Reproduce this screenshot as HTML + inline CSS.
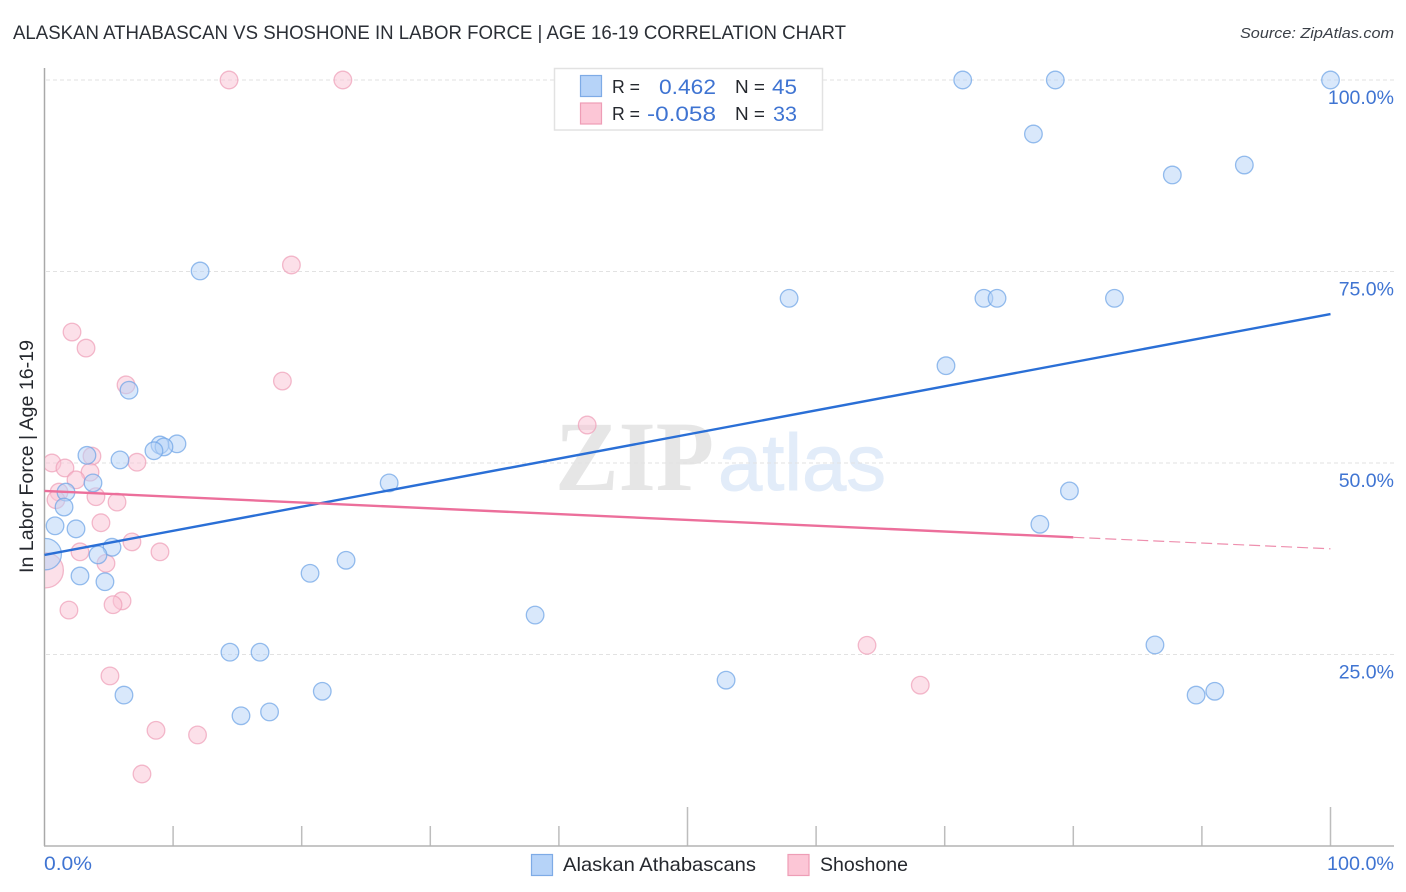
<!DOCTYPE html>
<html lang="en">
<head>
<meta charset="utf-8">
<title>Alaskan Athabascan vs Shoshone in Labor Force | Age 16-19 Correlation Chart</title>
<style>
html,body{margin:0;padding:0;background:#fff;}
svg{display:block;font-family:"Liberation Sans",sans-serif;}
</style>
</head>
<body>
<svg id="chart" xmlns="http://www.w3.org/2000/svg" width="1406" height="892" viewBox="0 0 1406 892">
  <defs>
    <clipPath id="plot-clip"><rect x="45" y="60" width="1349" height="786"/></clipPath>
  </defs>
  <rect x="0" y="0" width="1406" height="892" fill="#fff"/>
  <text x="13" y="39" font-size="19" fill="#2b2f36" textLength="833" lengthAdjust="spacingAndGlyphs">ALASKAN ATHABASCAN VS SHOSHONE IN LABOR FORCE | AGE 16-19 CORRELATION CHART</text>
  <text x="1394" y="38" font-size="15" font-style="italic" fill="#3a3f47" text-anchor="end" textLength="154" lengthAdjust="spacingAndGlyphs">Source: ZipAtlas.com</text>

  <g>
    <text x="555" y="490" font-family="'Liberation Serif',serif" font-weight="bold" font-size="100" fill="#e6e6e6" textLength="159" lengthAdjust="spacingAndGlyphs">ZIP</text>
    <text x="718" y="490" font-family="'Liberation Sans',sans-serif" font-size="80" fill="#e2ecf9" stroke="#e2ecf9" stroke-width="1" textLength="168" lengthAdjust="spacingAndGlyphs">atlas</text>
  </g>

  <g id="grid"></g>
  <g id="xticks"></g>
  <g id="ylabels"></g>

  <line x1="44.5" y1="68" x2="44.5" y2="846" stroke="#a9a9a9" stroke-width="1.5"/>
  <line x1="44" y1="846" x2="1394" y2="846" stroke="#b3b3b3" stroke-width="1.5"/>

  <g id="points" clip-path="url(#plot-clip)"></g>
  <g id="trends"></g>

  <text transform="translate(33,573) rotate(-90)" font-size="19.5" fill="#25282e" textLength="233" lengthAdjust="spacingAndGlyphs">In Labor Force | Age 16-19</text>
  <text x="44" y="870" font-size="19.5" fill="#3f74d2" textLength="48" lengthAdjust="spacingAndGlyphs">0.0%</text>
  <text x="1394" y="870" font-size="19.5" fill="#3f74d2" text-anchor="end" textLength="67" lengthAdjust="spacingAndGlyphs">100.0%</text>

  <g>
    <rect x="554.5" y="68.5" width="268" height="61.5" fill="#fff" stroke="#e2e2e2" stroke-width="1.5"/>
    <rect x="580.5" y="75.5" width="21" height="21" fill="#b6d3f8" stroke="#7eabe6" stroke-width="1.2"/>
    <rect x="580.5" y="103" width="21" height="21" fill="#fcc6d6" stroke="#ee9db6" stroke-width="1.2"/>
    <text x="612" y="93" font-size="18.5" fill="#25282e" textLength="28" lengthAdjust="spacingAndGlyphs">R =</text>
    <text x="716" y="94" font-size="21.5" fill="#3f74d2" text-anchor="end" textLength="57" lengthAdjust="spacingAndGlyphs">0.462</text>
    <text x="735" y="93" font-size="18.5" fill="#25282e" textLength="30" lengthAdjust="spacingAndGlyphs">N =</text>
    <text x="797" y="94" font-size="21.5" fill="#3f74d2" text-anchor="end" textLength="25" lengthAdjust="spacingAndGlyphs">45</text>
    <text x="612" y="120" font-size="18.5" fill="#25282e" textLength="28" lengthAdjust="spacingAndGlyphs">R =</text>
    <text x="716" y="121" font-size="21.5" fill="#3f74d2" text-anchor="end" textLength="69" lengthAdjust="spacingAndGlyphs">-0.058</text>
    <text x="735" y="120" font-size="18.5" fill="#25282e" textLength="30" lengthAdjust="spacingAndGlyphs">N =</text>
    <text x="797" y="121" font-size="21.5" fill="#3f74d2" text-anchor="end" textLength="24" lengthAdjust="spacingAndGlyphs">33</text>
  </g>

  <g>
    <rect x="531.5" y="854.5" width="21" height="21" fill="#b6d3f8" stroke="#7eabe6" stroke-width="1.2"/>
    <text x="563" y="871" font-size="19.5" fill="#25282e" textLength="193" lengthAdjust="spacingAndGlyphs">Alaskan Athabascans</text>
    <rect x="788" y="854.5" width="21" height="21" fill="#fcc6d6" stroke="#ee9db6" stroke-width="1.2"/>
    <text x="820" y="871" font-size="19.5" fill="#25282e" textLength="88" lengthAdjust="spacingAndGlyphs">Shoshone</text>
  </g>
</svg>
<script>
const yTickValues = [25, 50, 75, 100];
const yTickLabels = ["25.0%", "50.0%", "75.0%", "100.0%"];
const xTickValues = [10, 20, 30, 40, 50, 60, 70, 80, 90, 100];
const xMajorTicks = [50, 100];

const pinkX = [14.35,23.2,19.2,2.14,3.23,18.5,6.34,42.2,3.69,0.58,7.19,1.59,3.54,2.45,1.13,4.0,0.89,5.64,4.39,6.8,2.76,8.98,4.78,0.1,6.03,5.33,1.9,63.96,68.1,5.09,8.67,11.9,7.58];
const pinkY = [100,100,75.85,67.1,65.0,60.7,60.2,54.96,50.9,50.0,50.1,49.35,48.8,47.8,46.2,45.6,45.2,44.9,42.2,39.7,38.4,38.4,36.9,36.0,32.0,31.5,30.8,26.2,21.0,22.2,15.1,14.5,9.4];
const pinkWeight = [1,1,1,1,1,1,1,1,1,1,1,1,1,1,1,1,1,1,1,1,1,1,1,4,1,1,1,1,1,1,1,1,1];

const blueX = [100,78.6,71.4,76.9,93.3,87.7,12.1,57.9,73.05,74.07,83.2,70.1,6.57,10.3,8.98,9.29,8.51,3.3,5.87,3.77,26.8,1.67,79.7,1.52,0.82,77.4,2.45,5.25,4.16,0.1,23.45,2.76,20.65,4.7,38.15,86.35,14.42,16.76,53.0,21.6,91.0,6.18,89.55,17.5,15.28];
const blueY = [100,100,100,92.95,88.9,87.6,75.07,71.5,71.5,71.5,71.5,62.7,59.5,52.5,52.35,52.1,51.6,51.0,50.4,47.4,47.4,46.2,46.35,44.25,41.8,42.0,41.4,39.0,38.0,38.1,37.3,35.25,35.6,34.5,30.15,26.25,25.3,25.3,21.65,20.2,20.2,19.7,19.7,17.5,17.0];
const blueWeight = [1,1,1,1,1,1,1,1,1,1,1,1,1,1,1,1,1,1,1,1,1,1,1,1,1,1,1,1,1,3.16,1,1,1,1,1,1,1,1,1,1,1,1,1,1,1];

const blueTrendX = [0, 100];
const blueTrendY = [38.0, 69.45];
const pinkTrendX = [0, 80];
const pinkTrendY = [46.35, 40.3];
const pinkDashX = [80, 100];
const pinkDashY = [40.3, 38.8];

const NS = "http://www.w3.org/2000/svg";
function xScale(v) { return 44.5 + v * 12.86; }
function yScale(v) { return 846 - v * 7.66; }
function make(tag, attrs, parent) {
  const el = document.createElementNS(NS, tag);
  for (const k in attrs) el.setAttribute(k, attrs[k]);
  parent.appendChild(el);
  return el;
}

const grid = document.getElementById("grid");
const ylabels = document.getElementById("ylabels");
yTickValues.forEach(function (v, i) {
  const line = make("line", {x1: 46, x2: 1394, y1: yScale(v), y2: yScale(v), stroke: "#e2e2e2", "stroke-width": 1, "stroke-dasharray": "4 3"}, grid);
  
  
  const t = make("text", {x: 1394, y: yScale(v) + 24, "font-size": 19.5, fill: "#3f74d2", "text-anchor": "end"}, ylabels);
  t.textContent = yTickLabels[i];
  
  
});

const xticks = document.getElementById("xticks");
xTickValues.forEach(function (v) {
  const top = xMajorTicks.indexOf(v) >= 0 ? 807 : 826;
  const tick = make("line", {x1: xScale(v), x2: xScale(v), y1: top, y2: 846, stroke: "#bdbdbd", "stroke-width": 1.5}, xticks);
  
  
});

const pointsG = document.getElementById("points");
function drawSeries(xs, ys, weights, fill, stroke, name) {
  xs.forEach(function (x, i) {
    const c = make("circle", {cx: xScale(x), cy: yScale(ys[i]), r: 8.8 * Math.sqrt(weights[i]), fill: fill, "fill-opacity": 0.52, stroke: stroke, "stroke-opacity": 0.72, "stroke-width": 1.3}, pointsG);
    
    
  });
}
drawSeries(pinkX, pinkY, pinkWeight, "#f9c4d5", "#ee9fb8", "shoshone-point");
drawSeries(blueX, blueY, blueWeight, "#b6d3f8", "#6ea3e6", "alaskan-point");

const trends = document.getElementById("trends");
const blueLine = make("line", {x1: xScale(blueTrendX[0]), y1: yScale(blueTrendY[0]), x2: xScale(blueTrendX[1]), y2: yScale(blueTrendY[1]), stroke: "#2a6fd6", "stroke-width": 2.4}, trends);


const pinkLine = make("line", {x1: xScale(pinkTrendX[0]), y1: yScale(pinkTrendY[0]), x2: xScale(pinkTrendX[1]), y2: yScale(pinkTrendY[1]), stroke: "#ec6f9b", "stroke-width": 2.4}, trends);


const pinkDash = make("line", {x1: xScale(pinkDashX[0]), y1: yScale(pinkDashY[0]), x2: xScale(pinkDashX[1]), y2: yScale(pinkDashY[1]), stroke: "#ee8fae", "stroke-width": 1.2, "stroke-dasharray": "11 5"}, trends);


</script>
</body>
</html>
